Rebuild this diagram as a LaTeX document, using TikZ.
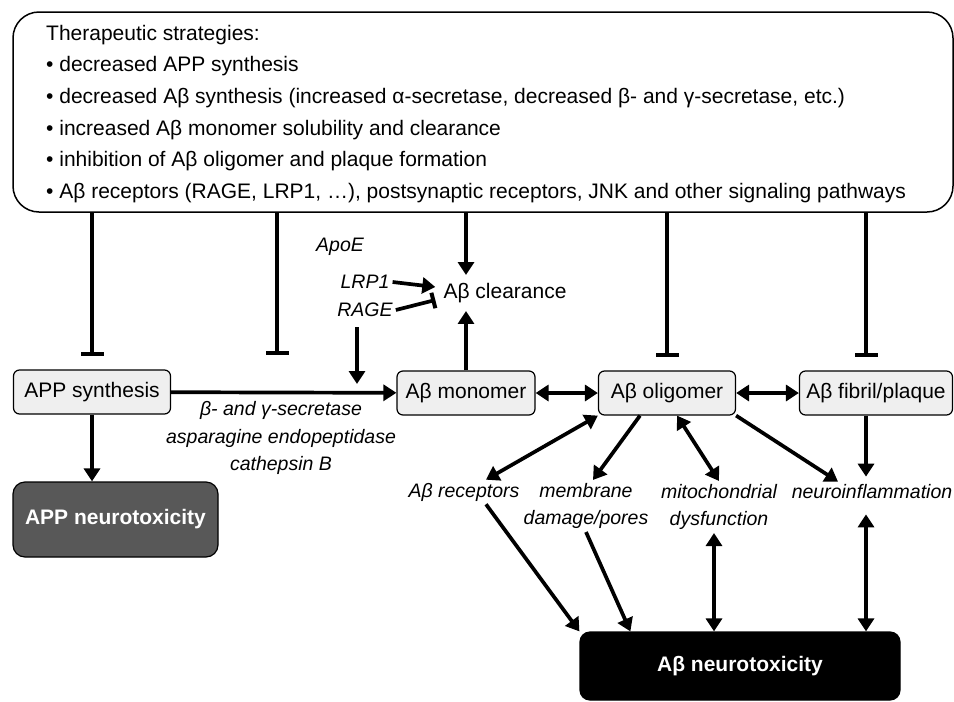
\documentclass[tikz,border=0pt]{standalone}
\usepackage{fontspec}
\setmainfont{Liberation Sans}
\usetikzlibrary{arrows.meta}
\definecolor{boxgray}{HTML}{EFEFEF}
\definecolor{toxgray}{HTML}{585858}

\begin{document}
\begin{tikzpicture}[x=1pt,y=-1pt,
  every node/.style={font=\fontsize{21}{25}\selectfont},
  box/.style={draw, fill=boxgray, rounded corners=6pt, line width=1.2pt, minimum height=44pt, inner xsep=4pt},
  tox/.style={draw, rounded corners=12pt, line width=1.2pt, text=white, font=\fontsize{21}{25}\selectfont\bfseries},
  lbl/.style={font=\fontsize{19.5}{27.5}\selectfont\itshape, align=center, inner sep=3pt},
  act/.style={line width=3.7pt, -{Triangle[length=13pt,width=16pt]}},
  both/.style={line width=3.7pt, {Triangle[length=13pt,width=16pt]}-{Triangle[length=13pt,width=16pt]}},
  inh/.style={line width=3.7pt, -{Bar[width=23pt,line width=4.5pt]}}]
\useasboundingbox (0,0) rectangle (954,702);

% therapeutic strategies
\node[draw, line width=1.5pt, rounded corners=26pt, minimum width=940pt, minimum height=200pt] (0) at (483,112) {};
\foreach \t [count=\i] in {{Therapeutic strategies:},
  {• decreased APP synthesis},
  {• decreased Aβ synthesis (increased α-secretase, decreased β- and γ-secretase, etc.)},
  {• increased Aβ monomer solubility and clearance},
  {• inhibition of Aβ oligomer and plaque formation},
  {• Aβ receptors (RAGE, LRP1, …), postsynaptic receptors, JNK and other signaling pathways}}
  \node[anchor=base west, inner sep=0pt] (s\i) at (46,{40+31.7*(\i-1)}) {\t};

% species
\node[box, minimum width=157pt] (1) at (92,392) {APP synthesis};
\node[box, minimum width=138pt] (2) at (466,393) {Aβ monomer};
\node[box, minimum width=137pt] (3) at (667,393) {Aβ oligomer};
\node[box, minimum width=153pt] (4) at (876,393) {Aβ fibril/plaque};
\node[inner sep=8pt] (5) at (505,293) {Aβ clearance};
\node[tox, fill=toxgray, minimum width=205pt, minimum height=75pt] (6) at (115.5,519.5) {APP neurotoxicity};
\node[tox, fill=black, minimum width=320pt, minimum height=68pt, rounded corners=10pt] (7) at (740,666) {Aβ neurotoxicity};

% labels
\node[lbl] (8) at (340,247) {ApoE};
\node[lbl] (9) at (365,282) {LRP1};
\node[lbl] (10) at (365,310) {RAGE};
\node[lbl] (11) at (281,438) {β- and γ-secretase\\asparagine endopeptidase\\cathepsin B};
\node[lbl] (12) at (464,492) {Aβ receptors};
\node[lbl] (13) at (586,506) {membrane\\damage/pores};
\node[lbl] (14) at (719,507) {mitochondrial\\dysfunction};
\node[lbl] (15) at (872,492) {neuroinflammation};

\coordinate (secbar) at (277,355);
\coordinate (cut) at (357,384);
\coordinate (fx) at ([xshift=-10pt]4.north);
\coordinate (mx) at ([xshift=-5pt]14.south);

% inhibition from the strategies
\draw[inh, shorten >=13pt] (0.south -| 1) -- (1);
\draw[inh] (0.south -| secbar) -- (secbar);
\draw[act] (0.south -| 2) -- (2 |- 5.north);
\draw[inh, shorten >=13pt] (0.south -| 3) -- (3);
\draw[inh, shorten >=13pt] (0.south -| fx) -- (fx);

% processing and clearance
\draw[act] (1) -- (2);
\draw[act, shorten <=7pt] ([xshift=-8pt]10.south) -- (cut);
\draw[act] (9.east) -- ([yshift=6pt]5.west);
\draw[inh, -{Bar[width=16pt,line width=4pt]}] (10.east) -- ([yshift=-7pt]5.west);
\draw[act] (2) -- (2 |- 5.south);
\draw[both] (2) -- (3);
\draw[both] (3) -- (4);
\draw[act] (1) -- (1 |- 6.north);

% toxicity
\draw[both] (3.south west) -- ([xshift=22pt]12.north);
\draw[act] ([xshift=-27pt]3.south) -- ([xshift=7pt]13.north);
\draw[both] ([xshift=10pt]3.south) -- (14.north);
\draw[act] (3.south east) -- ([xshift=-34pt]15.north);
\draw[act, shorten >=5pt] (fx |- 4.south) -- (fx |- 15.north);
\draw[act] ([xshift=22pt]12.south) -- (7.north west);
\draw[act] (13.south) -- ([xshift=51pt]7.north west);
\draw[both] (mx) -- (mx |- 7.north);
\draw[both, shorten <=12pt] (fx |- 15.south) -- (fx |- 7.north);
\end{tikzpicture}
\end{document}
